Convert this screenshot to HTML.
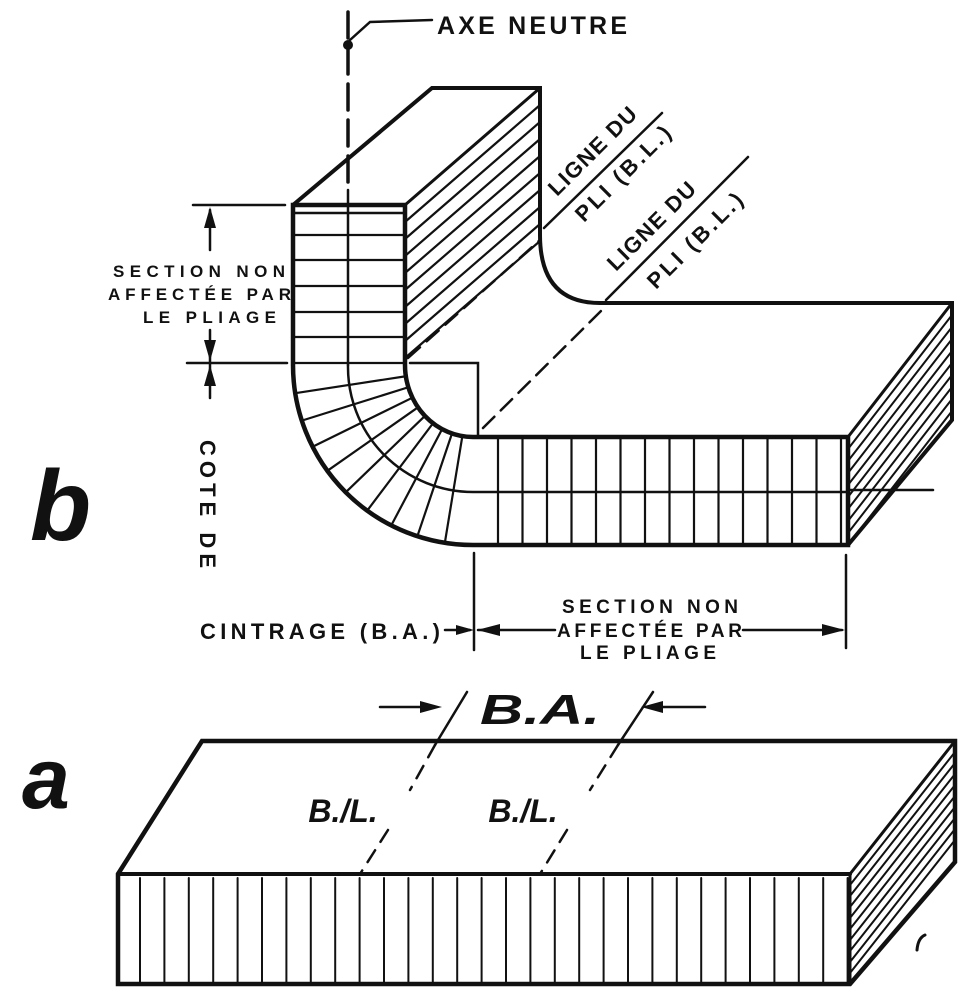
<!DOCTYPE html>
<html><head><meta charset="utf-8"><style>
html,body{margin:0;padding:0;background:#fff;width:975px;height:994px;overflow:hidden}
svg{display:block}
text{font-family:"Liberation Sans",sans-serif;font-weight:bold;fill:#111}
</style></head><body>
<svg id="s" width="975" height="994" viewBox="0 0 975 994" xmlns="http://www.w3.org/2000/svg" stroke="#111" fill="none" stroke-linecap="round">
<line x1="348" y1="12" x2="348" y2="190" stroke-width="3.5" stroke-dasharray="26,10"/>
<line x1="348" y1="190" x2="348" y2="365" stroke-width="2.5"/>
<circle cx="348" cy="45" r="4.5" fill="#111"/>
<polyline points="350,40 370,22 432,20" stroke-width="2.5"/>
<text x="437" y="34" font-size="25" stroke="none" textLength="190" lengthAdjust="spacing">AXE NEUTRE</text>

<polyline points="293,205 432,88 540,88 540,235" stroke-width="4"/>
<line x1="405" y1="205" x2="540" y2="88" stroke-width="3"/>
<g id="hv"></g>
<path d="M540,235 Q540,303 600,303 L952,303 L952,420 L848,545" stroke-width="4"/>
<line x1="848" y1="437" x2="952" y2="303" stroke-width="3"/>
<g id="hr"></g>
<path d="M293,205 L405,205 L405,365 A68,72 0 0 0 473,437 L848,437 L848,545 L473,545 A180,180 0 0 1 293,365 Z" stroke-width="4.5"/>
<line x1="293" y1="213" x2="405" y2="213" stroke-width="2.5"/>
<path d="M348,365 A125,125 0 0 0 473,492 L848,492" stroke-width="2.5"/>
<g id="grid" stroke-width="2.5"></g>
<line x1="408" y1="358" x2="540" y2="240" stroke-width="2.5" stroke-dasharray="16,9"/>
<line x1="483" y1="428" x2="606" y2="306" stroke-width="2.5" stroke-dasharray="16,9"/>
<line x1="544" y1="228" x2="662" y2="113" stroke-width="2.5"/>
<line x1="606" y1="300" x2="748" y2="157" stroke-width="2.5"/>
<polyline points="410,363 478,363 478,437" stroke-width="2.5"/>
<line x1="848" y1="490" x2="933" y2="490" stroke-width="2.5"/>
<text transform="translate(557,197) rotate(-45)" font-size="22" stroke="none" textLength="115" lengthAdjust="spacing">LIGNE DU</text>
<text transform="translate(584,223) rotate(-45)" font-size="22" stroke="none" textLength="125" lengthAdjust="spacing">PLI (B.L.)</text>
<text transform="translate(616,272) rotate(-45)" font-size="22" stroke="none" textLength="115" lengthAdjust="spacing">LIGNE DU</text>
<text transform="translate(656,290) rotate(-45)" font-size="22" stroke="none" textLength="125" lengthAdjust="spacing">PLI (B.L.)</text>

<line x1="193" y1="205" x2="285" y2="205" stroke-width="2.5"/>
<line x1="187" y1="363" x2="287" y2="363" stroke-width="2.5"/>
<line x1="210" y1="210" x2="210" y2="250" stroke-width="2.5"/>
<polygon points="210,207 204,228 216,228" fill="#111" stroke="none"/>
<line x1="210" y1="330" x2="210" y2="398" stroke-width="2.5"/>
<polygon points="210,361 204,340 216,340" fill="#111" stroke="none"/>
<polygon points="210,365 204,386 216,386" fill="#111" stroke="none"/>
<g stroke="none" font-size="17">
<text x="113" y="277" textLength="172" lengthAdjust="spacing">SECTION NON</text>
<text x="108" y="300" textLength="183" lengthAdjust="spacing">AFFECTÉE PAR</text>
<text x="143" y="323" textLength="133" lengthAdjust="spacing">LE PLIAGE</text>
</g>
<text transform="translate(200,440) rotate(90)" font-size="22" stroke="none" textLength="128" lengthAdjust="spacing">COTE DE</text>
<text x="30" y="540" font-size="100" font-style="italic" stroke="none">b</text>

<line x1="474" y1="553" x2="474" y2="650" stroke-width="2.5"/>
<line x1="846" y1="555" x2="846" y2="648" stroke-width="2.5"/>
<text x="200" y="639" font-size="22" stroke="none" textLength="240" lengthAdjust="spacing">CINTRAGE (B.A.)</text>
<line x1="445" y1="630" x2="470" y2="630" stroke-width="2.5"/>
<polygon points="474,630 456,625 456,635" fill="#111" stroke="none"/>
<line x1="478" y1="630" x2="555" y2="630" stroke-width="2.5"/>
<polygon points="477,630 500,624 500,636" fill="#111" stroke="none"/>
<line x1="743" y1="630" x2="842" y2="630" stroke-width="2.5"/>
<polygon points="845,630 822,624 822,636" fill="#111" stroke="none"/>
<g stroke="none" font-size="19">
<text x="562" y="613" textLength="176" lengthAdjust="spacing">SECTION NON</text>
<text x="557" y="637" textLength="185" lengthAdjust="spacing">AFFECTÉE PAR</text>
<text x="580" y="659" textLength="136" lengthAdjust="spacing">LE PLIAGE</text>
</g>

<text x="22" y="808" font-size="86" font-style="italic" stroke="none">a</text>
<line x1="380" y1="707" x2="435" y2="707" stroke-width="2.5"/>
<polygon points="442,707 420,701 420,713" fill="#111" stroke="none"/>
<line x1="648" y1="707" x2="705" y2="707" stroke-width="2.5"/>
<polygon points="641,707 663,701 663,713" fill="#111" stroke="none"/>
<text x="480" y="724" font-size="42" font-style="italic" stroke="none" textLength="120" lengthAdjust="spacingAndGlyphs">B.A.</text>
<line x1="467" y1="692" x2="435" y2="745" stroke-width="2.5"/>
<line x1="435" y1="745" x2="410" y2="790" stroke-width="2.5" stroke-dasharray="14,10"/>
<line x1="388" y1="830" x2="360" y2="874" stroke-width="2.5" stroke-dasharray="14,10"/>
<line x1="653" y1="692" x2="618" y2="745" stroke-width="2.5"/>
<line x1="618" y1="745" x2="590" y2="790" stroke-width="2.5" stroke-dasharray="14,10"/>
<line x1="567" y1="830" x2="540" y2="874" stroke-width="2.5" stroke-dasharray="14,10"/>
<text x="343" y="822" font-size="32" font-style="italic" text-anchor="middle" stroke="none">B./L.</text>
<text x="523" y="822" font-size="32" font-style="italic" text-anchor="middle" stroke="none">B./L.</text>
<g id="ar"></g>
<path d="M118,874 L202,741 L955,741 L955,862 L850,984 L118,984 Z" stroke-width="4.5"/>
<line x1="118" y1="874" x2="850" y2="874" stroke-width="4"/>
<line x1="850" y1="874" x2="955" y2="741" stroke-width="3"/>
<line x1="850" y1="874" x2="850" y2="984" stroke-width="3"/>
<g id="af" stroke-width="2"></g>
<path d="M925,935 Q918,938 917,950" stroke-width="3"/>
</svg>
<script>
var NS="http://www.w3.org/2000/svg";
function L(g,x1,y1,x2,y2,w){var e=document.createElementNS(NS,"line");e.setAttribute("x1",x1);e.setAttribute("y1",y1);e.setAttribute("x2",x2);e.setAttribute("y2",y2);e.setAttribute("stroke-width",w||2.2);document.getElementById(g).appendChild(e);}
[235,260,286,312,337,363].forEach(function(y){L("grid",293,y,405,y);});
var cx=473,cy=365;
for(var i=1;i<=9;i++){var a=i*Math.PI/2/10;var c=Math.cos(a),s=Math.sin(a);
L("grid",cx-68*c,cy+72*s,cx-180*c,cy+180*s);}
for(var x=498;x<846;x+=24.5){L("grid",x,437,x,545);}
for(var k=1;k<=9;k++){var y0=205+k*17;L("hv",405,y0,540,y0-117,2.2);}
for(var k=1;k<=9;k++){var y0=437+k*12;L("hr",848,y0,952,y0-134,2);}
for(var x=140;x<850;x+=24.4){L("af",x,878,x,982,2);}
for(var k=1;k<=9;k++){var y0=874+k*11;L("ar",850,y0,955,y0-133,2);}
</script>
</body></html>
